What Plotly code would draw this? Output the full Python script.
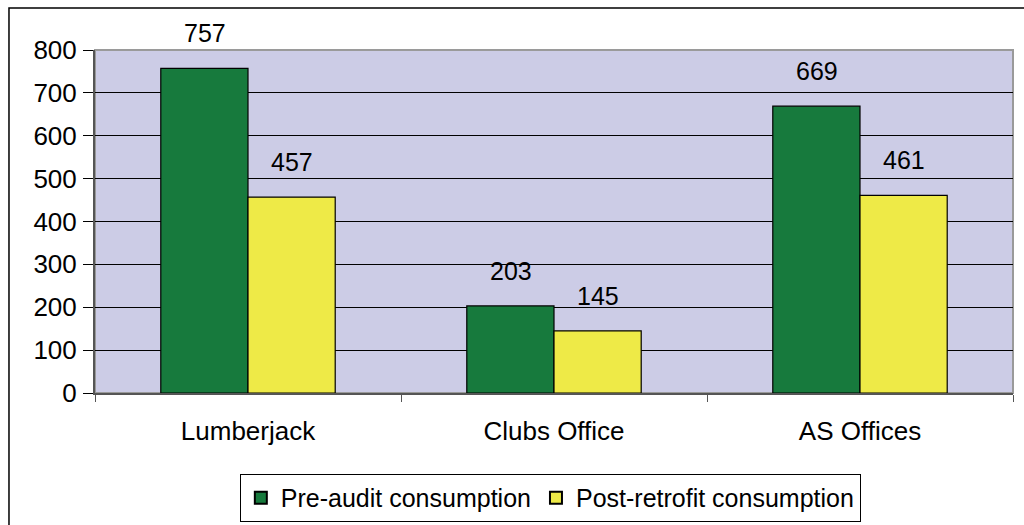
import plotly.graph_objects as go

categories = ["Lumberjack", "Clubs Office", "AS Offices"]
pre_audit = [757, 203, 669]
post_retrofit = [457, 145, 461]
series_names = ["Pre-audit consumption", "Post-retrofit consumption"]
series_colors = ["#177A3D", "#EEEA47"]
y_ticks = [0, 100, 200, 300, 400, 500, 600, 700, 800]

FONT = "Liberation Sans, Arial, sans-serif"
FS = 25
FS_TICK = 26

fig = go.Figure()
for name, vals, col in zip(series_names, [pre_audit, post_retrofit], series_colors):
    fig.add_trace(go.Bar(
        x=categories, y=vals, name=name,
        marker=dict(color=col, line=dict(color="black", width=1.2)),
    ))

# value labels above bars
annotations = []
for j, vals in enumerate([pre_audit, post_retrofit]):
    shift = -43.5 if j == 0 else 43.5
    for c, v in zip(categories, vals):
        annotations.append(dict(
            x=c, y=v, xref="x", yref="y", text=str(v), showarrow=False,
            xshift=shift, yshift=19, yanchor="bottom",
            font=dict(family=FONT, size=FS, color="black"),
        ))

shapes = [
    # plot-area frame
    dict(type="rect", xref="paper", yref="paper", x0=0, x1=1, y0=0, y1=1,
         line=dict(color="#9a9a9a", width=2), layer="below"),
    # outer chart border
    dict(type="rect", xref="paper", yref="paper", x0=-0.0937, x1=1.2,
         y0=-0.6, y1=1.1224, line=dict(color="black", width=1.5), layer="below"),
]

fig.update_layout(
    width=1024, height=525,
    margin=dict(l=95, r=11, t=50, b=132, autoexpand=False),
    paper_bgcolor="white",
    plot_bgcolor="#CCCCE6",
    barmode="group", bargap=0.43, bargroupgap=0,
    font=dict(family=FONT, size=FS, color="black"),
    showlegend=True,
    legend=dict(
        orientation="h", x=0.496, xanchor="center", y=-0.236, yanchor="top",
        bordercolor="black", borderwidth=1, font=dict(family=FONT, size=FS),
        itemsizing="constant",
    ),
    annotations=annotations,
    shapes=shapes,
    xaxis=dict(
        showgrid=False, showline=True, linecolor="#555555", linewidth=2,
        ticks="outside", tickson="boundaries", ticklen=7, tickcolor="#555555",
        ticklabelstandoff=14, tickfont=dict(family=FONT, size=FS_TICK),
    ),
    yaxis=dict(
        range=[0, 800], tickvals=y_ticks, showgrid=True, gridcolor="black",
        gridwidth=1, showline=True, linecolor="#555555", linewidth=2,
        ticks="outside", ticklen=10, tickcolor="black", zeroline=False,
        ticklabelstandoff=1, tickfont=dict(family=FONT, size=FS_TICK),
    ),
)

fig.write_html("out.html", config={"displayModeBar": False},
               post_script="document.body.style.margin='0';")
